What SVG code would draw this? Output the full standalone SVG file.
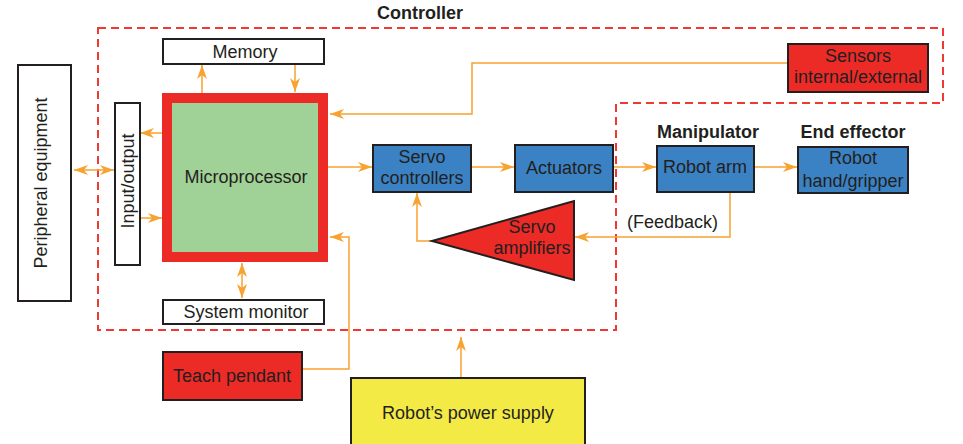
<svg xmlns="http://www.w3.org/2000/svg" width="963" height="444" viewBox="0 0 963 444">
<style>
text{font-family:"Liberation Sans",Arial,sans-serif;font-size:18px;fill:#231f20}
.c{text-anchor:middle}
.b{font-weight:bold}
.box{stroke:#231f20;stroke-width:2}
.w{fill:#ffffff}
.r{fill:#ec2b27}
.bl{fill:#3a82c4}
.y{fill:#f4ea45}
.cn{fill:none;stroke:#f7a231;stroke-width:1.5}
</style>
<defs>
<marker id="ah" viewBox="0 0 14 10" refX="14" refY="5" markerWidth="14" markerHeight="10" orient="auto-start-reverse" markerUnits="userSpaceOnUse">
<path d="M0,0 L14,5 L0,10 L4,5 Z" fill="#f7a231"/>
</marker>
</defs>
<rect width="963" height="444" fill="#ffffff"/>

<g id="controller">
<path d="M98,28 H943 V103 H616 V330 H98 Z" fill="none" stroke="#ee3a33" stroke-width="2" stroke-dasharray="8 5"/>
<text class="c b" x="420" y="19">Controller</text>
</g>

<g id="connectors">
<line class="cn" x1="202" y1="93" x2="202" y2="65" marker-end="url(#ah)"/>
<line class="cn" x1="295" y1="64" x2="295" y2="92" marker-end="url(#ah)"/>
<line class="cn" x1="162" y1="133" x2="140" y2="133" marker-end="url(#ah)"/>
<line class="cn" x1="140" y1="218" x2="162" y2="218" marker-end="url(#ah)"/>
<line class="cn" x1="74" y1="170" x2="114" y2="170" marker-start="url(#ah)" marker-end="url(#ah)"/>
<line class="cn" x1="328" y1="167" x2="372" y2="167" marker-end="url(#ah)"/>
<polyline class="cn" points="788,63 472,63 472,114 330,114" marker-end="url(#ah)" stroke="#f9b865"/>
<line class="cn" x1="471" y1="167" x2="514" y2="167" marker-end="url(#ah)"/>
<line class="cn" x1="613" y1="167" x2="656" y2="167" marker-end="url(#ah)"/>
<line class="cn" x1="754" y1="167" x2="797" y2="167" marker-end="url(#ah)"/>
<polyline class="cn" points="730,192 730,237 575,237" marker-end="url(#ah)"/>
<polyline class="cn" points="432,241 417,241 417,193" marker-end="url(#ah)"/>
<polyline class="cn" points="302,369 349,369 349,237 330,237" marker-end="url(#ah)"/>
<line class="cn" x1="242" y1="263" x2="242" y2="298" marker-start="url(#ah)" marker-end="url(#ah)"/>
<line class="cn" x1="461" y1="378" x2="461" y2="337" marker-end="url(#ah)"/>
</g>

<g id="peripheral">
<rect class="box w" x="18" y="65" width="53" height="236"/>
<text class="c" transform="translate(47,183) rotate(-90)">Peripheral equipment</text>
</g>

<g id="io">
<rect class="box w" x="115" y="103" width="25" height="162"/>
<text class="c" transform="translate(134,181) rotate(-90)">Input/output</text>
</g>

<g id="microprocessor">
<rect x="162" y="93" width="166" height="169" fill="#ec2b27"/>
<rect x="172" y="103" width="146" height="149" fill="#a0d196"/>
<text class="c" x="246" y="183">Microprocessor</text>
</g>

<g id="memory">
<rect class="box w" x="163" y="39" width="161" height="25"/>
<text class="c" x="245" y="58">Memory</text>
</g>

<g id="system-monitor">
<rect class="box w" x="163" y="300" width="161" height="24"/>
<text class="c" x="246" y="318">System monitor</text>
</g>

<g id="sensors">
<rect class="box r" x="788" y="44" width="140" height="48"/>
<text class="c" x="858" y="62">Sensors</text>
<text class="c" x="858" y="83">internal/external</text>
</g>

<g id="servo-controllers">
<rect class="box bl" x="373" y="145" width="98" height="47"/>
<text class="c" x="422" y="163">Servo</text>
<text class="c" x="422" y="184">controllers</text>
</g>

<g id="actuators">
<rect class="box bl" x="515" y="145" width="98" height="47"/>
<text class="c" x="564" y="174">Actuators</text>
</g>

<g id="robot-arm">
<text class="c b" x="708" y="138">Manipulator</text>
<rect class="box bl" x="657" y="146" width="97" height="46"/>
<text class="c" x="705" y="173">Robot arm</text>
</g>

<g id="robot-hand">
<text class="c b" x="853" y="138">End effector</text>
<rect class="box bl" x="798" y="147" width="110" height="46"/>
<text class="c" x="853" y="164">Robot</text>
<text class="c" x="853" y="187">hand/gripper</text>
</g>

<g id="servo-amplifiers">
<polygon class="box r" points="432,241 574,201 574,280"/>
<text class="c" x="532" y="233">Servo</text>
<text class="c" x="532" y="254">amplifiers</text>
</g>

<g id="feedback-label">
<text x="627" y="228">(Feedback)</text>
</g>

<g id="teach-pendant">
<rect class="box r" x="163" y="352" width="139" height="48"/>
<text class="c" x="232" y="382">Teach pendant</text>
</g>

<g id="power-supply">
<rect class="box y" x="351" y="378" width="234" height="72"/>
<text class="c" x="468" y="419">Robot’s power supply</text>
</g>
</svg>
